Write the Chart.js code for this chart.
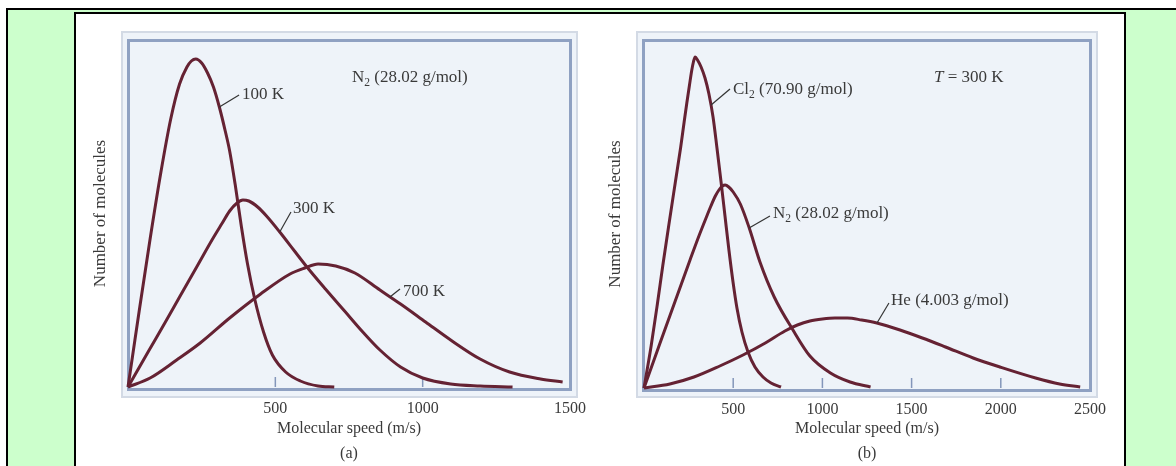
<!DOCTYPE html>
<html>
<head>
<meta charset="utf-8">
<script src="https://cdn.jsdelivr.net/npm/chart.js@4.4.1/dist/chart.umd.min.js"></script>
<style>
  body { margin: 0; width: 1176px; height: 466px; overflow: hidden; background: #fff; position: relative; }
  #outer { position: absolute; left: 6px; top: 8px; width: 1170px; height: 458px; background: #ccffcc;
           border-top: 2px solid #000; border-left: 2px solid #000; box-sizing: border-box; }
  #cell { position: absolute; left: 74px; top: 12px; width: 1052px; height: 470px; background: #fff;
          border: 2px solid #000; box-sizing: border-box; }
  .frame { position: absolute; box-sizing: border-box; border: 2px solid #d3dae5; background: #eef3f9; }
  .inner { position: absolute; box-sizing: border-box; border: 3px solid #8fa1c2; }
  canvas { position: absolute; top: 0; }
</style>
</head>
<body>
<div id="outer"></div>
<div id="cell"></div>
<div class="frame" style="left:121px; top:31px; width:457px; height:367px;"></div>
<div class="inner" style="left:127px; top:39px; width:445px; height:352px;"></div>
<div class="frame" style="left:636px; top:31px; width:462px; height:367px;"></div>
<div class="inner" style="left:642px; top:39px; width:450px; height:353px;"></div>
<canvas id="chartA" width="520" height="466" style="left:80px"></canvas>
<canvas id="chartB" width="536" height="466" style="left:600px"></canvas>
<script>
// (a) N2 at three temperatures -- speed in m/s, height in arbitrary units
const speedA100 = [0, 15, 40, 75, 110, 145, 175, 200, 215, 230, 250, 270, 290, 310, 330, 345, 365, 385, 405, 430, 460, 490, 535, 585, 645, 700];
const countA100 = [0, 30, 80, 148, 212, 268, 303, 320, 326, 328, 324, 314, 300, 280, 256, 236, 200, 160, 124, 88, 55, 32, 15, 6, 1, 0];
const speedA300 = [0, 70, 125, 175, 235, 285, 320, 345, 370, 390, 410, 440, 470, 515, 565, 610, 670, 735, 800, 855, 925, 1000, 1095, 1195, 1305];
const countA300 = [0, 36, 64, 90, 121, 147, 164, 176, 184, 187, 186, 180, 171, 155, 136, 119, 98, 76, 54, 37, 20, 9, 3, 1, 0];
const speedA700 = [0, 75, 165, 245, 345, 450, 550, 600, 645, 705, 770, 855, 925, 1010, 1095, 1195, 1295, 1400, 1475];
const countA700 = [0, 9, 27, 44, 69, 93, 113, 119, 123, 121, 114, 97, 83, 65, 47, 28, 15, 8, 5];

// (b) three gases at 300 K
const speedCl2 = [0, 40, 75, 105, 140, 175, 205, 225, 240, 255, 267, 277, 287, 300, 320, 342, 364, 387, 409, 432, 454, 476, 499, 521, 549, 583, 622, 667, 712, 768];
const countCl2 = [0, 42, 84, 122, 164, 205, 240, 266, 285, 303, 317, 326, 331, 328, 321, 310, 294, 271, 240, 206, 172, 138, 106, 80, 56, 36, 21, 11, 5, 1];
const speedN2 = [0, 90, 175, 260, 310, 350, 375, 400, 420, 440, 455, 475, 500, 540, 590, 650, 730, 835, 930, 1045, 1155, 1270];
const countN2 = [0, 45, 87, 129, 153, 171, 182, 192, 198, 202, 203, 201, 196, 184, 160, 126, 91, 58, 32, 15, 6, 1];
const speedHe = [0, 145, 280, 425, 555, 680, 790, 860, 930, 1000, 1070, 1140, 1220, 1305, 1435, 1560, 1690, 1845, 1995, 2195, 2330, 2445];
const countHe = [0, 4, 11, 22, 33, 45, 57, 63, 67, 69, 70, 70, 68, 65, 58, 50, 41, 30, 21, 10, 4, 1];

const ticksA = [500, 1000, 1500];
const ticksB = [500, 1000, 1500, 2000, 2500];

// curve labels: text, leader start (on curve), leader end, text anchor -- all in data units
const notesA = [
  { text: 'N_2 (28.02 g/mol)', pos: [760, 309] },
  { text: '100 K', from: [310, 280], to: [377, 292], pos: [387, 292] },
  { text: '300 K', from: [515, 155], to: [553, 175], pos: [560, 178] },
  { text: '700 K', from: [889, 90], to: [923, 98], pos: [933, 95] }
];
const notesB = [
  { text: 'Cl_2 (70.90 g/mol)', from: [376, 283], to: [482, 299], pos: [499, 298] },
  { text: '*T* = 300 K', pos: [1626, 310] },
  { text: 'N_2 (28.02 g/mol)', from: [589, 160], to: [706, 172], pos: [723, 174] },
  { text: 'He (4.003 g/mol)', from: [1306, 65], to: [1373, 85], pos: [1385, 87] }
];

const serif = '"Liberation Serif", "Times New Roman", serif';
const inkColor = '#3a3a3a';
const curveColor = '#652233';

// draws "N_2" with a subscript 2 and "*T*" in italics
function drawRich(ctx, text, x, y, size) {
  text.split(/(_\d|\*[^*]+\*)/).filter(s => s).forEach(p => {
    let t = p, style = '', dy = 0, sz = size;
    if (p[0] === '_') { t = p.slice(1); sz = size * 0.68; dy = size * 0.3; }
    else if (p[0] === '*') { t = p.slice(1, -1); style = 'italic '; }
    ctx.font = style + sz + 'px ' + serif;
    ctx.fillText(t, x, y + dy);
    x += ctx.measureText(t).width;
  });
}

function notesPlugin(notes) {
  return {
    id: 'notes',
    beforeDatasetsDraw(chart) {
      // short ticks standing up from the baseline
      const { ctx, scales: { x, y } } = chart;
      ctx.save();
      ctx.strokeStyle = '#8396ba';
      ctx.lineWidth = 1.5;
      x.ticks.forEach(t => {
        if (t.value <= x.min || t.value >= x.max) return;
        const px = x.getPixelForValue(t.value);
        ctx.beginPath();
        ctx.moveTo(px, y.bottom);
        ctx.lineTo(px, y.bottom - 10);
        ctx.stroke();
      });
      ctx.restore();
    },
    afterDatasetsDraw(chart) {
      const { ctx, scales: { x, y } } = chart;
      ctx.save();
      ctx.fillStyle = inkColor;
      ctx.strokeStyle = '#333';
      ctx.lineWidth = 1.2;
      ctx.textBaseline = 'middle';
      notes.forEach(n => {
        if (n.from) {
          ctx.beginPath();
          ctx.moveTo(x.getPixelForValue(n.from[0]), y.getPixelForValue(n.from[1]));
          ctx.lineTo(x.getPixelForValue(n.to[0]), y.getPixelForValue(n.to[1]));
          ctx.stroke();
        }
        drawRich(ctx, n.text, x.getPixelForValue(n.pos[0]), y.getPixelForValue(n.pos[1]), 17);
      });
      ctx.restore();
    }
  };
}

function curve(speeds, counts) {
  return {
    data: speeds.map((v, i) => ({ x: v, y: counts[i] })),
    borderColor: curveColor,
    borderWidth: 3,
    pointRadius: 0,
    fill: false,
    clip: false,
    cubicInterpolationMode: 'monotone'
  };
}

function makeChart(id, datasets, opts) {
  return new Chart(document.getElementById(id), {
    type: 'line',
    data: { datasets },
    options: {
      responsive: false,
      animation: false,
      layout: { padding: { left: 0, right: opts.padRight, top: 40, bottom: 0 } },
      plugins: { legend: { display: false }, tooltip: { enabled: false } },
      scales: {
        x: {
          type: 'linear', min: 0, max: opts.max,
          afterBuildTicks: s => { s.ticks = opts.ticks.map(v => ({ value: v })); },
          afterFit: s => { s.height = opts.xHeight; },
          grid: { display: false, drawTicks: false },
          border: { display: false },
          ticks: { padding: 12, color: inkColor, font: { family: serif, size: 16 }, callback: v => String(v) },
          title: {
            display: true, text: ['Molecular speed (m/s)', opts.caption], color: inkColor,
            font: { family: serif, size: 16, lineHeight: '25px' }, padding: { top: 0, bottom: 0 }
          }
        },
        y: {
          type: 'linear', min: 0, max: opts.yMax,
          afterFit: s => { s.width = opts.yWidth; },
          grid: { display: false, drawTicks: false },
          border: { display: false },
          ticks: { display: false },
          title: {
            display: true, text: 'Number of molecules', color: inkColor,
            font: { family: serif, size: 17 }, padding: { top: opts.yTitlePad, bottom: 0 }
          }
        }
      }
    },
    plugins: [notesPlugin(opts.notes)]
  });
}

makeChart('chartA', [
  curve(speedA100, countA100),
  curve(speedA300, countA300),
  curve(speedA700, countA700)
], { max: 1500, ticks: ticksA, caption: '(a)', padRight: 30, xHeight: 79, yWidth: 48, yMax: 347, yTitlePad: 10, notes: notesA });

makeChart('chartB', [
  curve(speedCl2, countCl2),
  curve(speedN2, countN2),
  curve(speedHe, countHe)
], { max: 2500, ticks: ticksB, caption: '(b)', padRight: 46, xHeight: 78, yWidth: 44, yMax: 348, yTitlePad: 5, notes: notesB });
</script>
</body>
</html>
